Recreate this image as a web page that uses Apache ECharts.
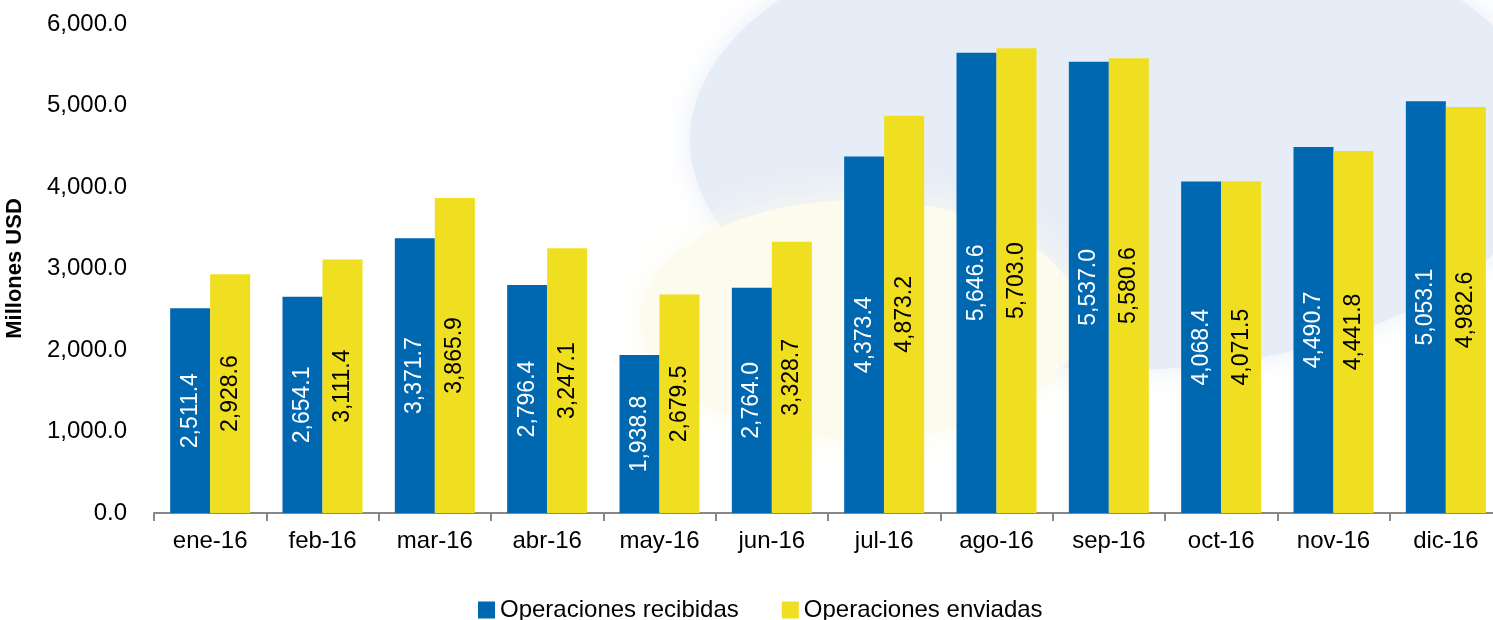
<!DOCTYPE html>
<html>
<head>
<meta charset="utf-8">
<script src="https://cdn.jsdelivr.net/npm/echarts@6/dist/echarts.min.js"></script>
<style>
  html, body { margin: 0; padding: 0; background: #fff; }
  #chart { width: 1493px; height: 620px; }
</style>
</head>
<body>
<div id="chart"></div>
<script>
var months = ['ene-16', 'feb-16', 'mar-16', 'abr-16', 'may-16', 'jun-16', 'jul-16', 'ago-16', 'sep-16', 'oct-16', 'nov-16', 'dic-16']
var recibidas = [2511.4, 2654.1, 3371.7, 2796.4, 1938.8, 2764.0, 4373.4, 5646.6, 5537.0, 4068.4, 4490.7, 5053.1]
var enviadas = [2928.6, 3111.4, 3865.9, 3247.1, 2679.5, 3328.7, 4873.2, 5703.0, 5580.6, 4071.5, 4441.8, 4982.6]
var seriesNames = ['Operaciones recibidas', 'Operaciones enviadas']
var colors = ['#0067B1', '#F0DF20']

var font = '"Liberation Sans", Arial, sans-serif'

function fmt (v) {
  return Number(v).toLocaleString('en-US', { minimumFractionDigits: 1, maximumFractionDigits: 1 })
}

var chart = echarts.init(document.getElementById('chart'))
chart.setOption({
  backgroundColor: '#fff',
  animation: false,
  graphic: [
    // faint watermark behind the plot, soft edges
    {
      type: 'ellipse', z: -11, silent: true,
      shape: { cx: 1120, cy: 140, rx: 430, ry: 230 },
      style: { fill: '#E7EDF7', shadowBlur: 30, shadowColor: '#E7EDF7' }
    },
    {
      type: 'ellipse', z: -10, silent: true,
      shape: { cx: 860, cy: 320, rx: 220, ry: 120 },
      style: { fill: '#FCFBEE', shadowBlur: 40, shadowColor: '#FCFBEE' }
    }
  ],
  grid: {
    left: 154,
    top: 24,
    bottom: 107,
    width: 1348,
    outerBoundsMode: 'none',
    containLabel: false
  },
  legend: {
    data: seriesNames,
    left: 473,
    top: 593,
    itemWidth: 17,
    itemHeight: 17,
    itemGap: 43,
    icon: 'rect',
    textStyle: {
      fontFamily: font,
      fontSize: 24,
      color: '#000'
    }
  },
  xAxis: {
    type: 'category',
    data: months,
    axisLine: { lineStyle: { color: '#888', width: 2 } },
    axisTick: { show: true, length: 8, lineStyle: { color: '#888', width: 2 } },
    axisLabel: {
      margin: 16,
      fontFamily: font,
      fontSize: 24,
      color: '#000'
    }
  },
  yAxis: {
    type: 'value',
    min: 0,
    max: 6000,
    interval: 1000,
    name: 'Millones USD',
    nameLocation: 'middle',
    nameGap: 128,
    nameTextStyle: {
      fontFamily: font,
      fontWeight: 'bold',
      fontSize: 22,
      color: '#000'
    },
    axisLine: { show: false },
    axisTick: { show: false },
    splitLine: { show: false },
    axisLabel: {
      margin: 27,
      fontFamily: font,
      fontSize: 24,
      color: '#000',
      formatter: fmt
    }
  },
  series: [
    {
      name: seriesNames[0],
      type: 'bar',
      data: recibidas,
      barWidth: 40,
      barGap: '0%',
      itemStyle: { color: colors[0] },
      label: {
        show: true,
        position: 'inside',
        rotate: 90,
        fontFamily: font,
        fontSize: 23,
        color: '#fff',
        formatter: function (p) { return fmt(p.value) }
      }
    },
    {
      name: seriesNames[1],
      type: 'bar',
      data: enviadas,
      barWidth: 40,
      barGap: '0%',
      itemStyle: { color: colors[1] },
      label: {
        show: true,
        position: 'inside',
        rotate: 90,
        fontFamily: font,
        fontSize: 23,
        color: '#000',
        formatter: function (p) { return fmt(p.value) }
      }
    }
  ]
})
</script>
</body>
</html>
